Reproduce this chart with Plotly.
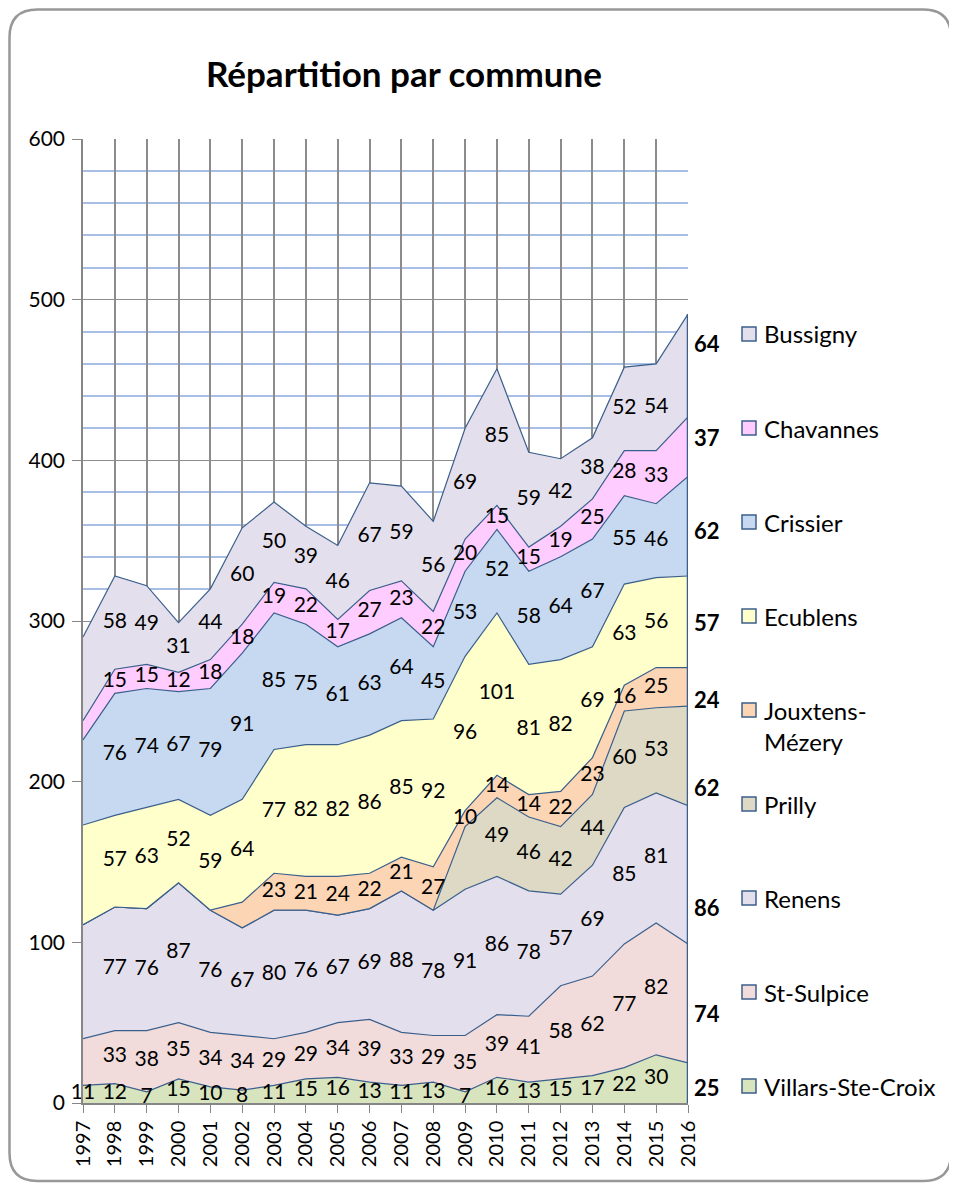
import numpy as np
import plotly.graph_objects as go

# ---------------- data ----------------
years = [1997, 1998, 1999, 2000, 2001, 2002, 2003, 2004, 2005, 2006,
         2007, 2008, 2009, 2010, 2011, 2012, 2013, 2014, 2015, 2016]

villars    = [11, 12, 7, 15, 10, 8, 11, 15, 16, 13, 11, 13, 7, 16, 13, 15, 17, 22, 30, 25]
st_sulpice = [29, 33, 38, 35, 34, 34, 29, 29, 34, 39, 33, 29, 35, 39, 41, 58, 62, 77, 82, 74]
renens     = [71, 77, 76, 87, 76, 67, 80, 76, 67, 69, 88, 78, 91, 86, 78, 57, 69, 85, 81, 86]
prilly     = [0, 0, 0, 0, 0, 0, 0, 0, 0, 0, 0, 0, 39, 49, 46, 42, 44, 60, 53, 62]
jouxtens   = [0, 0, 0, 0, 0, 16, 23, 21, 24, 22, 21, 27, 10, 14, 14, 22, 23, 16, 25, 24]
ecublens   = [62, 57, 63, 52, 59, 64, 77, 82, 82, 86, 85, 92, 96, 101, 81, 82, 69, 63, 56, 57]
crissier   = [53, 76, 74, 67, 79, 91, 85, 75, 61, 63, 64, 45, 53, 52, 58, 64, 67, 55, 46, 62]
chavannes  = [12, 15, 15, 12, 18, 18, 19, 22, 17, 27, 23, 22, 20, 15, 15, 19, 25, 28, 33, 37]
bussigny   = [52, 58, 49, 31, 44, 60, 50, 39, 46, 67, 59, 56, 69, 85, 59, 42, 38, 52, 54, 64]

# stacking order (bottom -> top)
names = ["Villars-Ste-Croix", "St-Sulpice", "Renens", "Prilly", "Jouxtens-Mézery",
         "Ecublens", "Crissier", "Chavannes", "Bussigny"]
values = [villars, st_sulpice, renens, prilly, jouxtens, ecublens, crissier, chavannes, bussigny]
legend_text = {"Jouxtens-Mézery": "Jouxtens-<br>Mézery"}
hidden_labels = {("Prilly", 2009), ("Jouxtens-Mézery", 2002)}

# ---------------- styles ----------------
colors = {
    "Villars-Ste-Croix": "#d7e4bd",
    "St-Sulpice": "#f2dcdb",
    "Renens": "#e4dfec",
    "Prilly": "#ddd9c4",
    "Jouxtens-Mézery": "#fcd5b5",
    "Ecublens": "#ffffcc",
    "Crissier": "#c6d9f1",
    "Chavannes": "#ffccff",
    "Bussigny": "#e4dfec",
}
# vertical pixel nudges of the bold end-labels (positive = up)
end_label_shift = {
    "Villars-Ste-Croix": -5, "St-Sulpice": -10, "Renens": -33, "Prilly": -32,
    "Jouxtens-Mézery": -13, "Ecublens": -1, "Crissier": -4, "Chavannes": 9, "Bussigny": 22,
}
EDGE = "#3b5f8c"
FONT = "Lato"

OFF = 8                      # default page margin of the html body
W, H = 957 - OFF, 1185 - OFF  # figure size
# plot area in page pixels
PL, PR, PT, PB = 83, 688, 139, 1103
L, R, T, B = PL - OFF, PR - OFF, PT - OFF, PB - OFF


def px(X):  # page pixel -> paper x
    return (X - PL) / (PR - PL)


def py(Y):  # page pixel -> paper y
    return (PB - Y) / (PB - PT)


fig = go.Figure()

arr = np.array(values, dtype=float)
cum = np.cumsum(arr, axis=0)
bottoms = cum - arr
mids = bottoms + arr / 2

# stacked areas
for i, name in enumerate(names):
    fig.add_trace(go.Scatter(
        x=years, y=values[i], name=name, stackgroup="one", mode="lines",
        line=dict(color=EDGE, width=1.2), fillcolor=colors[name],
        hoverinfo="skip", showlegend=False,
    ))

# right edge of the stacked area
fig.add_shape(type="line", xref="x", yref="y", x0=years[-1], x1=years[-1],
              y0=0, y1=float(cum[-1, -1]), line=dict(color=EDGE, width=2.5))

# in-area data labels
for i, name in enumerate(names):
    texts = []
    for j, yr in enumerate(years):
        v = values[i][j]
        if j == len(years) - 1 or v == 0 or (name, yr) in hidden_labels:
            texts.append("")
        elif j == 0 and i != 0:
            texts.append("")
        else:
            texts.append(str(v))
    fig.add_trace(go.Scatter(
        x=years, y=mids[i], mode="text", text=texts, textposition="middle center",
        textfont=dict(family=FONT, size=21, color="black"),
        cliponaxis=False, hoverinfo="skip", showlegend=False,
    ))

# bold labels for the last year, right of the area
for i, name in enumerate(names):
    fig.add_annotation(
        x=years[-1], y=float(mids[i, -1]), xref="x", yref="y",
        text="<b>%d</b>" % values[i][-1], showarrow=False,
        xanchor="left", yanchor="middle", xshift=4, yshift=end_label_shift[name],
        font=dict(family=FONT, size=22, color="black"),
    )

# manual legend (top -> bottom = reverse of stack)
leg_top, leg_step = 334, 94
for k, name in enumerate(reversed(names)):
    yc = leg_top + k * leg_step
    fig.add_shape(type="rect", xref="paper", yref="paper",
                  x0=px(742), x1=px(756), y0=py(yc + 7), y1=py(yc - 7),
                  fillcolor=colors[name], line=dict(color=EDGE, width=1.5))
    txt = legend_text.get(name, name)
    nlines = txt.count("<br>") + 1
    fig.add_annotation(
        x=px(762), y=py(yc + (nlines - 1) * 16), xref="paper", yref="paper",
        text=txt, showarrow=False, xanchor="left", yanchor="middle", align="left",
        font=dict(family=FONT, size=24, color="black"),
    )

# rounded chart border (page pixels)
x0, x1, y0, y1, r = 9.5, 951, 9.5, 1181, 28
path = (
    f"M {px(x0 + r)},{py(y0)} L {px(x1 - r)},{py(y0)} "
    f"Q {px(x1)},{py(y0)} {px(x1)},{py(y0 + r)} "
    f"L {px(x1)},{py(y1 - r)} Q {px(x1)},{py(y1)} {px(x1 - r)},{py(y1)} "
    f"L {px(x0 + r)},{py(y1)} Q {px(x0)},{py(y1)} {px(x0)},{py(y1 - r)} "
    f"L {px(x0)},{py(y0 + r)} Q {px(x0)},{py(y0)} {px(x0 + r)},{py(y0)} Z"
)
fig.add_shape(type="path", xref="paper", yref="paper", path=path,
              line=dict(color="#989898", width=2.5), layer="below")

fig.update_layout(
    width=W, height=H,
    margin=dict(l=L, r=W - R, t=T, b=H - B, pad=0),
    paper_bgcolor="white", plot_bgcolor="white",
    font=dict(family=FONT, size=20, color="black"),
    title=dict(text="<b>Répartition par commune</b>", x=(404 - OFF) / W, xref="container",
               xanchor="center", y=1 - (75 - OFF) / H, yref="container", yanchor="middle",
               font=dict(family=FONT, size=35, color="black")),
    showlegend=False,
)
fig.update_xaxes(
    range=[years[0], years[-1]], tickmode="array", tickvals=years,
    ticktext=[str(y) for y in years], tickangle=-90,
    ticks="outside", ticklen=8, tickcolor="#868686",
    showgrid=True, gridcolor="#8c8c8c", gridwidth=1.5,
    showline=True, linecolor="#868686", linewidth=1.5,
    tickfont=dict(family=FONT, size=20, color="black"), zeroline=False,
)
fig.update_yaxes(
    range=[0, 600], dtick=100, tick0=0,
    ticks="outside", ticklen=9, tickcolor="#868686",
    showgrid=True, gridcolor="#8c8c8c", gridwidth=1,
    minor=dict(dtick=20, showgrid=True, gridcolor="#a7bfe5", gridwidth=1.6, ticklen=0),
    showline=True, linecolor="#868686", linewidth=1.5,
    tickfont=dict(family=FONT, size=21, color="black"), zeroline=False,
    ticklabelstandoff=3,
)

fig.write_html("out.html")
